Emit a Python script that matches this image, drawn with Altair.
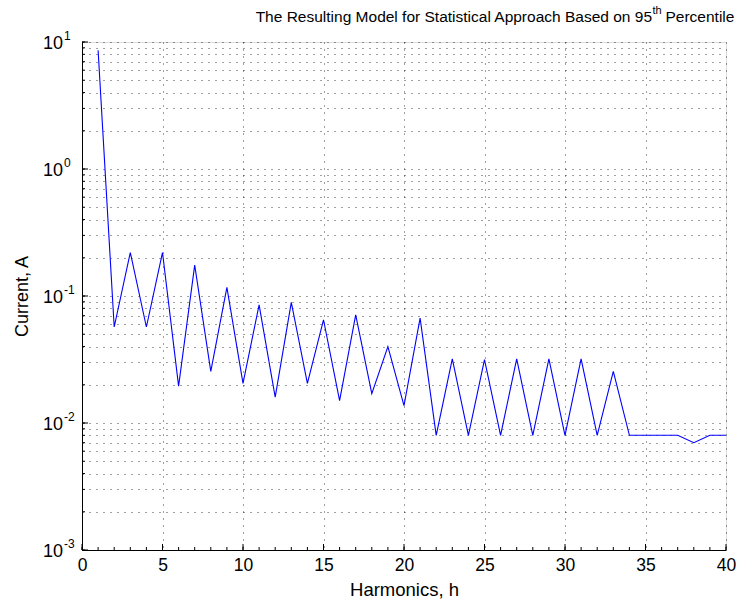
import altair as alt
import pandas as pd

harmonics = list(range(1, 41))
current = [8.6, 0.057, 0.22, 0.057, 0.22, 0.0195, 0.175, 0.0255, 0.117, 0.0205,
           0.085, 0.016, 0.089, 0.0205, 0.065, 0.015, 0.071, 0.017, 0.040, 0.0137,
           0.067, 0.008, 0.032, 0.008, 0.0315, 0.008, 0.032, 0.008, 0.032, 0.008,
           0.032, 0.008, 0.0255, 0.008, 0.008, 0.008, 0.008, 0.007, 0.008, 0.008]

x_major = [0, 5, 10, 15, 20, 25, 30, 35, 40]
x_minor = list(range(0, 41))
y_major = [0.001, 0.01, 0.1, 1, 10]
y_exponents = ["-3", "-2", "-1", "0", "1"]
y_base = ["10", "10", "10", "10", "10"]
y_minor = [round(k * 10 ** e, 6) for e in (-3, -2, -1, 0) for k in range(1, 10)] + [10]

title_main = "The Resulting Model for Statistical Approach Based on 95"
title_sup = "th"
title_end = "Percentile"

FONT = "Liberation Sans"
W, H = 644, 508

df = pd.DataFrame({"h": harmonics, "I": current})
ylab = pd.DataFrame({"v": y_major, "b": y_base, "e": y_exponents})

xscale = alt.Scale(domain=[0, 40], nice=False, zero=False)
yscale = alt.Scale(type="log", domain=[0.001, 10], nice=False)

line = alt.Chart(df).mark_line(color="#0000FF", strokeWidth=1.1, clip=True).encode(
    x=alt.X("h:Q", scale=xscale,
            axis=alt.Axis(values=x_major, title="Harmonics, h", grid=True,
                          gridDash=[1, 6], gridColor="#000000", gridOpacity=0.75,
                          ticks=False, domainColor="#000000", labelFontSize=17.5,
                          labelFont=FONT, labelColor="#000000", labelPadding=6,
                          titleFont=FONT, titleFontSize=18.5, titleFontWeight="normal",
                          titleColor="#000000", titlePadding=7, labelFlush=False)),
    y=alt.Y("I:Q", scale=yscale,
            axis=alt.Axis(values=y_minor, labels=False, title="Current, A",
                          grid=True, gridDash=[1, 6], gridColor="#000000",
                          gridOpacity=0.75, ticks=False, domainColor="#000000",
                          titleFont=FONT, titleFontSize=18, titleFontWeight="normal",
                          titleColor="#000000", titleX=-60, titleY=H / 2,
                          titleAngle=270, titleAlign="center", titleBaseline="middle")),
)

xt_major = alt.Chart(pd.DataFrame({"t": x_major})).mark_rule(color="#000000").encode(
    x=alt.X("t:Q", scale=xscale), y=alt.value(H), y2=alt.value(H - 6))
xt_minor = alt.Chart(pd.DataFrame({"t": x_minor})).mark_rule(color="#000000").encode(
    x=alt.X("t:Q", scale=xscale), y=alt.value(H), y2=alt.value(H - 3))
yt_major = alt.Chart(pd.DataFrame({"t": y_major})).mark_rule(color="#000000").encode(
    y=alt.Y("t:Q", scale=yscale), x=alt.value(0), x2=alt.value(6))
yt_minor = alt.Chart(pd.DataFrame({"t": y_minor})).mark_rule(color="#000000").encode(
    y=alt.Y("t:Q", scale=yscale), x=alt.value(0), x2=alt.value(3))

ylab_base = alt.Chart(ylab).mark_text(
    font=FONT, fontSize=18, align="right", baseline="middle", color="#000000", dy=2).encode(
    text="b:N", y=alt.Y("v:Q", scale=yscale), x=alt.value(-19))
ylab_exp = alt.Chart(ylab).mark_text(
    font=FONT, fontSize=12, align="left", baseline="middle", color="#000000", dy=-6).encode(
    text="e:N", y=alt.Y("v:Q", scale=yscale), x=alt.value(-18))

A = 570
t1 = alt.Chart(pd.DataFrame({"s": [title_main]})).mark_text(
    font=FONT, fontSize=15.5, align="right", baseline="alphabetic", color="#000000").encode(
    text="s:N", x=alt.value(A), y=alt.value(-20))
t2 = alt.Chart(pd.DataFrame({"s": [title_sup]})).mark_text(
    font=FONT, fontSize=11, align="left", baseline="alphabetic", color="#000000").encode(
    text="s:N", x=alt.value(A + 0.5), y=alt.value(-28))
t3 = alt.Chart(pd.DataFrame({"s": [title_end]})).mark_text(
    font=FONT, fontSize=15.5, align="left", baseline="alphabetic", color="#000000").encode(
    text="s:N", x=alt.value(A + 13.5), y=alt.value(-20))

chart = alt.layer(line, xt_minor, xt_major, yt_minor, yt_major,
                  ylab_base, ylab_exp, t1, t2, t3).properties(
    width=W, height=H,
    autosize=alt.AutoSizeParams(type="none"),
    padding={"left": 82, "top": 42, "right": 14, "bottom": 54},
).configure_view(stroke=None).configure(background="#ffffff")

chart.save("out.html", embed_options={"renderer": "svg", "actions": False})
